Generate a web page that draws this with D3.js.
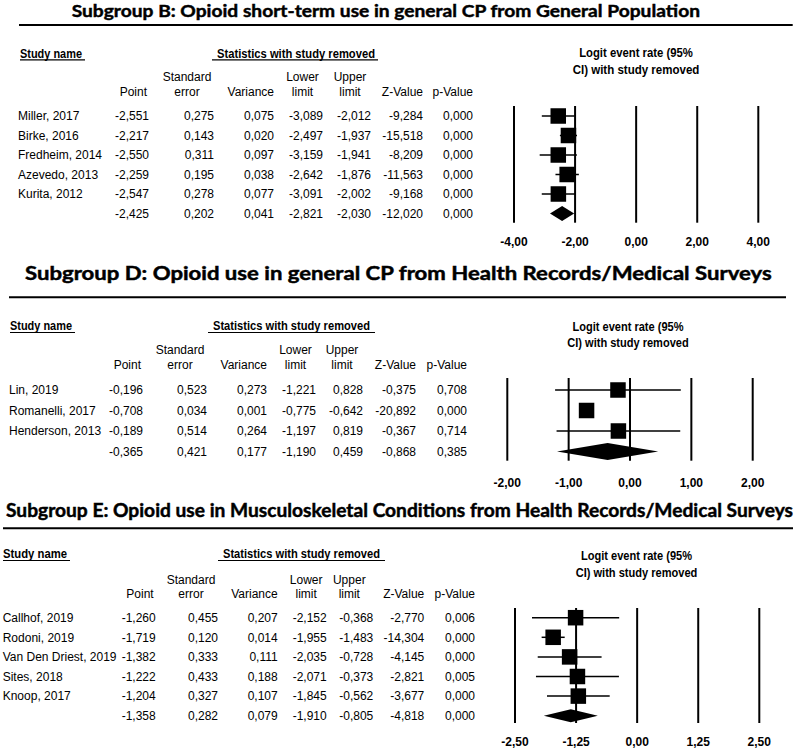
<!DOCTYPE html>
<html>
<head>
<meta charset="utf-8">
<script src="https://cdn.jsdelivr.net/npm/d3@7"></script>
<style>
body {margin:0; background:#fff;}
text {font-family:"Liberation Sans", Arial, sans-serif; fill:#000;}
.title {font-family:Lato, "Open Sans", sans-serif; font-weight:700; stroke:#000; stroke-width:0.45px;}
.bold {font-weight:bold;}
</style>
</head>
<body>
<script>

// ---- Subgroup B ----
var namesB = ["Miller, 2017","Birke, 2016","Fredheim, 2014","Azevedo, 2013","Kurita, 2012",""]
var pointB = [-2.551,-2.217,-2.550,-2.259,-2.547,-2.425]
var seB    = [0.275,0.143,0.311,0.195,0.278,0.202]
var varB   = [0.075,0.020,0.097,0.038,0.077,0.041]
var lowB   = [-3.089,-2.497,-3.159,-2.642,-3.091,-2.821]
var upB    = [-2.012,-1.937,-1.941,-1.876,-2.002,-2.030]
var zB     = [-9.284,-15.518,-8.209,-11.563,-9.168,-12.020]
var pB     = [0.000,0.000,0.000,0.000,0.000,0.000]
var ticksB = [-4,-2,0,2,4]

// ---- Subgroup D ----
var namesD = ["Lin, 2019","Romanelli, 2017","Henderson, 2013",""]
var pointD = [-0.196,-0.708,-0.189,-0.365]
var seD    = [0.523,0.034,0.514,0.421]
var varD   = [0.273,0.001,0.264,0.177]
var lowD   = [-1.221,-0.775,-1.197,-1.190]
var upD    = [0.828,-0.642,0.819,0.459]
var zD     = [-0.375,-20.892,-0.367,-0.868]
var pD     = [0.708,0.000,0.714,0.385]
var ticksD = [-2,-1,0,1,2]

// ---- Subgroup E ----
var namesE = ["Callhof, 2019","Rodoni, 2019","Van Den Driest, 2019","Sites, 2018","Knoop, 2017",""]
var pointE = [-1.260,-1.719,-1.382,-1.222,-1.204,-1.358]
var seE    = [0.455,0.120,0.333,0.433,0.327,0.282]
var varE   = [0.207,0.014,0.111,0.188,0.107,0.079]
var lowE   = [-2.152,-1.955,-2.035,-2.071,-1.845,-1.910]
var upE    = [-0.368,-1.483,-0.728,-0.373,-0.562,-0.805]
var zE     = [-2.770,-14.304,-4.145,-2.821,-3.677,-4.818]
var pE     = [0.006,0.000,0.000,0.005,0.000,0.000]
var ticksE = [-2.5,-1.25,0,1.25,2.5]

var titles = ["Subgroup B: Opioid short-term use in general CP from General Population",
              "Subgroup D: Opioid use in general CP from Health Records/Medical Surveys",
              "Subgroup E: Opioid use in Musculoskeletal Conditions from Health Records/Medical Surveys"]

// comma decimals, plain hyphen minus
var locale = d3.formatLocale({decimal:",", thousands:".", grouping:[3], currency:["",""], minus:"-"})
var f3 = locale.format(".3f")
var f2 = locale.format(".2f")

var svg = d3.select("body").append("svg")
    .attr("width",796)
    .attr("height",750)

var panels = [
    {title:titles[0], names:namesB, cols:[pointB,seB,varB,lowB,upB,zB,pB], ticks:ticksB,
     titleX:71.7, titleY:16.8, titleW:628.3, titleSize:17, rule:[19,792.7,25],
     hdrY:53.3, study:[20,62], stats:[217,158], statsUl:[212,378],
     colHdrY:[76.7,91.7], rowY:116, rowStep:19.5, nameX:18,
     colX:[149,214,274,323,371,423,473], upOff:21,
     logitX:636, logitY:[52.7,70], logitW:[113.7,126.7],
     range:[514,758.3], lineY:[106,222.7], tickY:241.7, dh:7.5},
    {title:titles[1], names:namesD, cols:[pointD,seD,varD,lowD,upD,zD,pD], ticks:ticksD,
     titleX:25, titleY:280, titleW:746.7, titleSize:18, rule:[9,786,297.3],
     hdrY:326, study:[10,62], stats:[213,157], statsUl:[208,375],
     colHdrY:[350,365], rowY:390, rowStep:20.5, nameX:9,
     colX:[143,207,267,316,363,416,467], upOff:21,
     logitX:628, logitY:[326.7,342.7], logitW:[111,121.4],
     range:[507.3,752.7], lineY:[378,460.7], tickY:482.7, dh:8.5},
    {title:titles[2], names:namesE, cols:[pointE,seE,varE,lowE,upE,zE,pE], ticks:ticksE,
     titleX:6, titleY:517, titleW:787, titleSize:18, rule:[3,793,528.3],
     hdrY:554, study:[3,64], stats:[223,157], statsUl:[218,385],
     colHdrY:[579.3,593.3], rowY:617.7, rowStep:19.6, nameX:2.7,
     colX:[155.7,218,277.7,326.7,373.3,424.3,475], upOff:24,
     logitX:636.5, logitY:[556,572.7], logitW:[111,121.6],
     range:[515,759.3], lineY:[608,723], tickY:741.7, dh:6.5}
]

var base = 4.3   // half cap height of 12px text

var drawPanel = function(pn)
{
    var g = svg.append("g")

    // title and rule
    g.append("text")
        .attr("class","title")
        .attr("x",pn.titleX)
        .attr("y",pn.titleY)
        .attr("font-size",pn.titleSize)
        .attr("textLength",pn.titleW)
        .attr("lengthAdjust","spacingAndGlyphs")
        .text(pn.title)
    g.append("line")
        .attr("x1",pn.rule[0]).attr("x2",pn.rule[1])
        .attr("y1",pn.rule[2]).attr("y2",pn.rule[2])
        .attr("stroke","#000").attr("stroke-width",2)

    // group headers
    g.append("text").attr("class","bold")
        .attr("x",pn.study[0]).attr("y",pn.hdrY+base)
        .attr("font-size",12)
        .attr("textLength",pn.study[1]).attr("lengthAdjust","spacingAndGlyphs")
        .text("Study name")
    g.append("line")
        .attr("x1",pn.study[0]).attr("x2",pn.study[0]+pn.study[1]+3)
        .attr("y1",pn.hdrY+6.5).attr("y2",pn.hdrY+6.5)
        .attr("stroke","#000").attr("stroke-width",1.2)
    g.append("text").attr("class","bold")
        .attr("x",pn.stats[0]).attr("y",pn.hdrY+base)
        .attr("font-size",12)
        .attr("textLength",pn.stats[1]).attr("lengthAdjust","spacingAndGlyphs")
        .text("Statistics with study removed")
    g.append("line")
        .attr("x1",pn.statsUl[0]).attr("x2",pn.statsUl[1])
        .attr("y1",pn.hdrY+6.5).attr("y2",pn.hdrY+6.5)
        .attr("stroke","#000").attr("stroke-width",1.2)

    // column headers
    var c = pn.colX
    var hdrs = [
        {x:c[0]-2, a:"end", l:["","Point"]},
        {x:c[1]-27, a:"middle", l:["Standard","error"]},
        {x:c[2], a:"end", l:["","Variance"]},
        {x:c[3]-20.5, a:"middle", l:["Lower","limit"]},
        {x:c[4]-pn.upOff, a:"middle", l:["Upper","limit"]},
        {x:c[5], a:"end", l:["","Z-Value"]},
        {x:c[6], a:"end", l:["","p-Value"]}
    ]
    hdrs.forEach(function(h)
    {
        h.l.forEach(function(s,k)
        {
            g.append("text")
                .attr("x",h.x)
                .attr("y",pn.colHdrY[k]+base)
                .attr("text-anchor",h.a)
                .attr("font-size",12)
                .text(s)
        })
    })

    var rowY = function(i) { return pn.rowY + i*pn.rowStep }

    // study names
    g.selectAll(".name")
        .data(pn.names)
        .enter()
        .append("text")
        .attr("x",pn.nameX)
        .attr("y",function(d,i){ return rowY(i)+base })
        .attr("font-size",12)
        .text(function(d){ return d })

    // value columns
    pn.cols.forEach(function(col,k)
    {
        g.selectAll(".col"+k)
            .data(col)
            .enter()
            .append("text")
            .attr("x",c[k])
            .attr("y",function(d,i){ return rowY(i)+base })
            .attr("text-anchor","end")
            .attr("font-size",12)
            .text(function(d){ return f3(d) })
    })

    // forest plot
    var xScale = d3.scaleLinear()
                    .domain([pn.ticks[0],pn.ticks[pn.ticks.length-1]])
                    .range(pn.range)

    g.append("text").attr("class","bold")
        .attr("x",pn.logitX).attr("y",pn.logitY[0]+base)
        .attr("text-anchor","middle").attr("font-size",12)
        .attr("textLength",pn.logitW[0]).attr("lengthAdjust","spacingAndGlyphs")
        .text("Logit event rate (95%")
    g.append("text").attr("class","bold")
        .attr("x",pn.logitX).attr("y",pn.logitY[1]+base)
        .attr("text-anchor","middle").attr("font-size",12)
        .attr("textLength",pn.logitW[1]).attr("lengthAdjust","spacingAndGlyphs")
        .text("CI) with study removed")

    g.selectAll(".vline")
        .data(pn.ticks)
        .enter()
        .append("line")
        .attr("x1",function(d){ return xScale(d) })
        .attr("x2",function(d){ return xScale(d) })
        .attr("y1",pn.lineY[0])
        .attr("y2",pn.lineY[1])
        .attr("stroke","#000")
        .attr("stroke-width",2)

    g.selectAll(".tick")
        .data(pn.ticks)
        .enter()
        .append("text")
        .attr("class","bold")
        .attr("x",function(d){ return xScale(d) })
        .attr("y",pn.tickY+base)
        .attr("text-anchor","middle")
        .attr("font-size",12)
        .text(function(d){ return f2(d) })

    var n = pn.names.length - 1
    var pts = pn.cols[0], lo = pn.cols[3], hi = pn.cols[4]
    var studies = d3.range(n)

    g.selectAll(".ci")
        .data(studies)
        .enter()
        .append("line")
        .attr("x1",function(i){ return xScale(lo[i]) })
        .attr("x2",function(i){ return xScale(hi[i]) })
        .attr("y1",function(i){ return rowY(i) })
        .attr("y2",function(i){ return rowY(i) })
        .attr("stroke","#000")
        .attr("stroke-width",1.5)

    var box = 15.5
    g.selectAll(".box")
        .data(studies)
        .enter()
        .append("rect")
        .attr("x",function(i){ return xScale(pts[i]) - box/2 })
        .attr("y",function(i){ return rowY(i) - box/2 })
        .attr("width",box)
        .attr("height",box)
        .attr("fill","#000")

    // summary diamond
    var dy = rowY(n), dh = pn.dh
    g.append("path")
        .attr("d","M"+xScale(lo[n])+","+dy+
                  "L"+xScale(pts[n])+","+(dy-dh)+
                  "L"+xScale(hi[n])+","+dy+
                  "L"+xScale(pts[n])+","+(dy+dh)+"Z")
        .attr("fill","#000")
}

panels.forEach(drawPanel)

</script>
</body>
</html>
